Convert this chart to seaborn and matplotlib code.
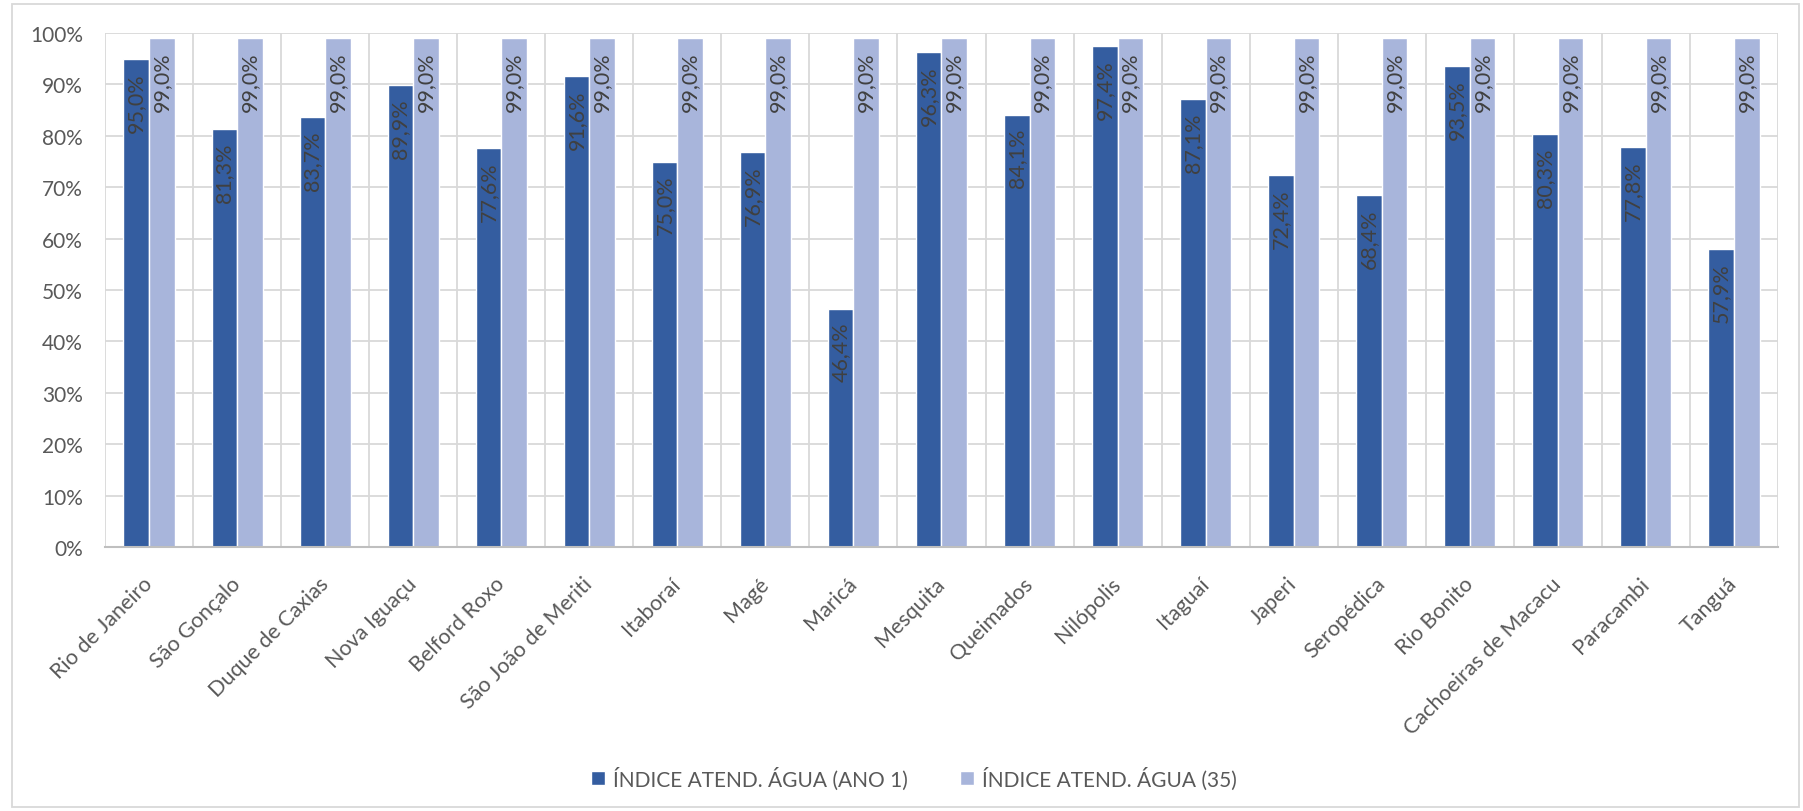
import matplotlib
matplotlib.use("Agg")
import matplotlib.pyplot as plt
import seaborn as sns
import pandas as pd
from matplotlib.patches import Rectangle
from matplotlib.ticker import FuncFormatter, MultipleLocator

categories = ["Rio de Janeiro", "São Gonçalo", "Duque de Caxias", "Nova Iguaçu", "Belford Roxo",
              "São João de Meriti", "Itaboraí", "Magé", "Maricá", "Mesquita", "Queimados", "Nilópolis",
              "Itaguaí", "Japeri", "Seropédica", "Rio Bonito", "Cachoeiras de Macacu", "Paracambi", "Tanguá"]
ano1 = [95.0, 81.3, 83.7, 89.9, 77.6, 91.6, 75.0, 76.9, 46.4, 96.3, 84.1, 97.4, 87.1, 72.4, 68.4, 93.5, 80.3, 77.8, 57.9]
ano35 = [99.0] * len(categories)
series_names = ["ÍNDICE ATEND. ÁGUA (ANO 1)", "ÍNDICE ATEND. ÁGUA (35)"]
colors = ["#345DA0", "#A8B5DB"]

df = pd.DataFrame({
    "Município": categories * 2,
    "Valor": ano1 + ano35,
    "Série": [series_names[0]] * len(categories) + [series_names[1]] * len(categories),
})

sns.set_theme(style="white")
plt.rcParams["font.family"] = ["Lato", "DejaVu Sans"]
text_color = "#595959"

fig = plt.figure(figsize=(18.03, 8.12), dpi=100)
ax = fig.add_axes([105 / 1803, 1 - 548 / 812, (1778 - 105) / 1803, (548 - 34) / 812])

sns.barplot(data=df, x="Município", y="Valor", hue="Série", palette=colors,
            width=0.58, gap=0, saturation=1, ax=ax, legend=True)

ax.set_ylim(0, 100)
ax.set_xlim(-0.5, len(categories) - 0.5)
ax.yaxis.set_major_locator(MultipleLocator(10))
ax.yaxis.set_major_formatter(FuncFormatter(lambda v, p: f"{int(round(v))}%"))
ax.set_xlabel("")
ax.set_ylabel("")

# gridlines
for v in range(10, 101, 10):
    ax.axhline(v, color="#D9D9D9", lw=1.3, zorder=0)
for i in range(len(categories) + 1):
    ax.axvline(i - 0.5, color="#D9D9D9", lw=1.3, zorder=0)
for s in ["top", "right", "left"]:
    ax.spines[s].set_visible(False)
ax.spines["bottom"].set_color("#BFBFBF")
ax.spines["bottom"].set_linewidth(1.5)
ax.spines["bottom"].set_zorder(3)

ax.tick_params(axis="y", length=0, pad=16, labelsize=15, labelcolor=text_color)
ax.tick_params(axis="x", length=0, pad=24, labelsize=15.5, labelcolor=text_color)
for lbl in ax.get_xticklabels():
    lbl.set_rotation(45)
    lbl.set_ha("right")
    lbl.set_va("center")
    lbl.set_rotation_mode("anchor")

# data labels
for cont in ax.containers:
    for p in cont.patches:
        h = p.get_height()
        ax.annotate(f"{h:.1f}%".replace(".", ","),
                    xy=(p.get_x() + p.get_width() / 2, h), xytext=(0, -9.5),
                    textcoords="offset points", rotation=90, ha="center", va="top",
                    fontsize=15.5, color="#404040", zorder=5)

handles, labels = ax.get_legend_handles_labels()
ax.legend_.remove()
fig.legend(handles, labels, loc="center", bbox_to_anchor=(914 / 1803, 1 - 779 / 812),
           ncol=2, frameon=False, fontsize=15, labelcolor=text_color,
           handlelength=0.65, handleheight=0.65, handletextpad=0.4, columnspacing=2.5)

fig.patches.append(Rectangle((12 / 1803, 4 / 812), (1799 - 12) / 1803, (807 - 4) / 812,
                             transform=fig.transFigure, fill=False, edgecolor="#D9D9D9", lw=1.3))

fig.savefig("out.png", dpi=100, facecolor="white")
